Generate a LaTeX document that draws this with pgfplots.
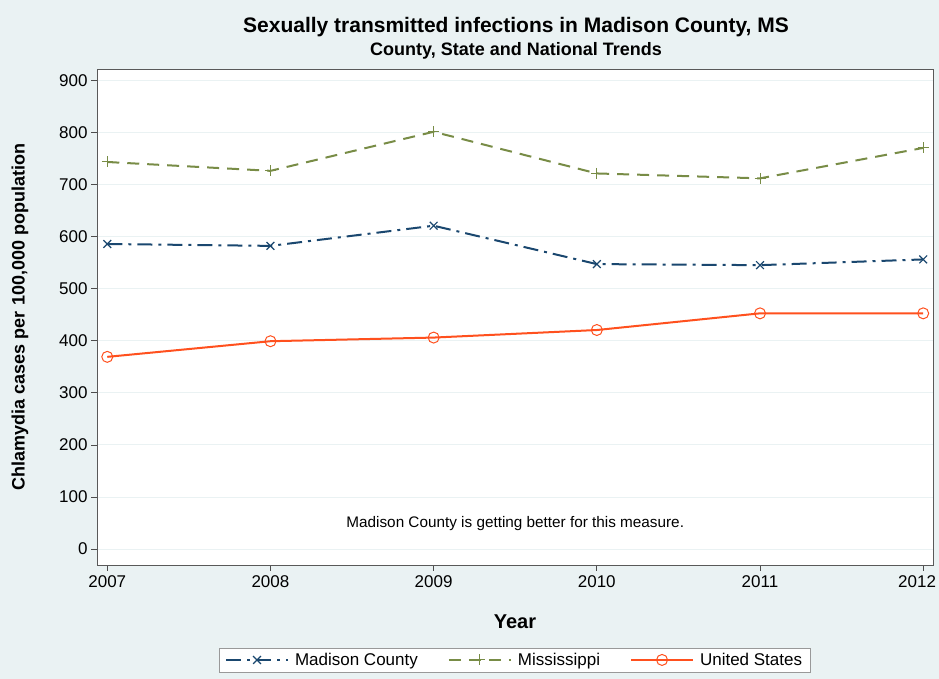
\documentclass[border=0pt]{standalone}
\usepackage{pgfplots}
\pgfplotsset{compat=1.18}
\usepackage{fontspec}
\setmainfont{Liberation Sans}
\definecolor{bgc}{RGB}{234,242,243}
\definecolor{navy}{RGB}{26,71,111}
\definecolor{olivec}{RGB}{120,140,70}
\definecolor{usred}{RGB}{255,80,30}
\definecolor{gridc}{RGB}{234,242,243}
\begin{document}
\begin{tikzpicture}[x=1pt,y=1pt]
\useasboundingbox (0,0) rectangle (939,679);
\fill[bgc] (0,0) rectangle (939,679);
\begin{axis}[
  at={(97pt,114pt)}, anchor=south west,
  scale only axis, width=836pt, height=496pt,
  xmin=2006.937, xmax=2012.06,
  ymin=-30.5, ymax=921.5,
  xtick={2007,...,2012},
  xticklabels={2007,2008,2009,2010,2011,2012\hspace*{12pt}},
  ytick={0,100,...,900},
  xticklabel style={font=\fontsize{17}{19}\selectfont, yshift=-1pt},
  yticklabel style={font=\fontsize{17}{19}\selectfont},
  /pgf/number format/assume math mode=true,
  tick align=outside, tick pos=left,
  major tick length=6pt,
  tick style={black!70, line width=0.8pt},
  axis line style={black!65, line width=0.8pt},
  axis background/.style={fill=white},
  ymajorgrids, grid style={gridc, line width=1pt},
  xlabel={\textbf{Year}}, xlabel style={font=\fontsize{20}{22}\selectfont, at={(axis description cs:0.5,-0.115)}, anchor=center},
  ylabel={\textbf{Chlamydia cases per 100,000 population}}, ylabel style={font=\fontsize{18}{20}\selectfont, at={(axis description cs:-0.0921,0.5)}, anchor=center},
  legend style={at={(0.4995,-0.167)}, anchor=north, legend columns=3, draw=black!40, fill=white,
    font=\fontsize{17}{19}\selectfont, /tikz/every even column/.append style={column sep=28pt},
    /tikz/every odd column/.append style={column sep=4pt},
    inner ysep=3pt, inner xsep=6pt},
  legend image post style={sharp plot},
  legend image code/.code={\draw[#1] (0pt,0pt) -- (62pt,0pt); \draw[#1,solid] plot coordinates {(31pt,0pt)};},
]
\addplot[navy, line width=2pt, dash pattern=on 15pt off 6pt on 3pt off 6pt, mark=x, mark size=5.5pt, mark options={solid, line width=1.2pt}]
 coordinates {(2007,585.6) (2008,582) (2009,620.7) (2010,547) (2011,545) (2012,556)};
\addlegendentry{Madison County}
\addplot[olivec, line width=2pt, dash pattern=on 12pt off 8pt, mark=+, mark size=5.5pt, mark options={solid, line width=1pt}]
 coordinates {(2007,743) (2008,726) (2009,801) (2010,721) (2011,711.6) (2012,770)};
\addlegendentry{Mississippi}
\addplot[usred, line width=2pt, mark=o, mark size=5.5pt, mark options={solid, line width=1pt, fill=none}]
 coordinates {(2007,369) (2008,399) (2009,406) (2010,420.5) (2011,452.5) (2012,452.5)};
\addlegendentry{United States}
\node[font=\fontsize{15.3}{17}\selectfont] at (axis cs:2009.5,50) {Madison County is getting better for this measure.};
\end{axis}
\node[font=\bfseries\fontsize{21}{23}\selectfont] at (516,652) {Sexually transmitted infections in Madison County, MS};
\node[font=\bfseries\fontsize{18}{20}\selectfont] at (516,628.5) {County, State and National Trends};
\end{tikzpicture}
\end{document}
